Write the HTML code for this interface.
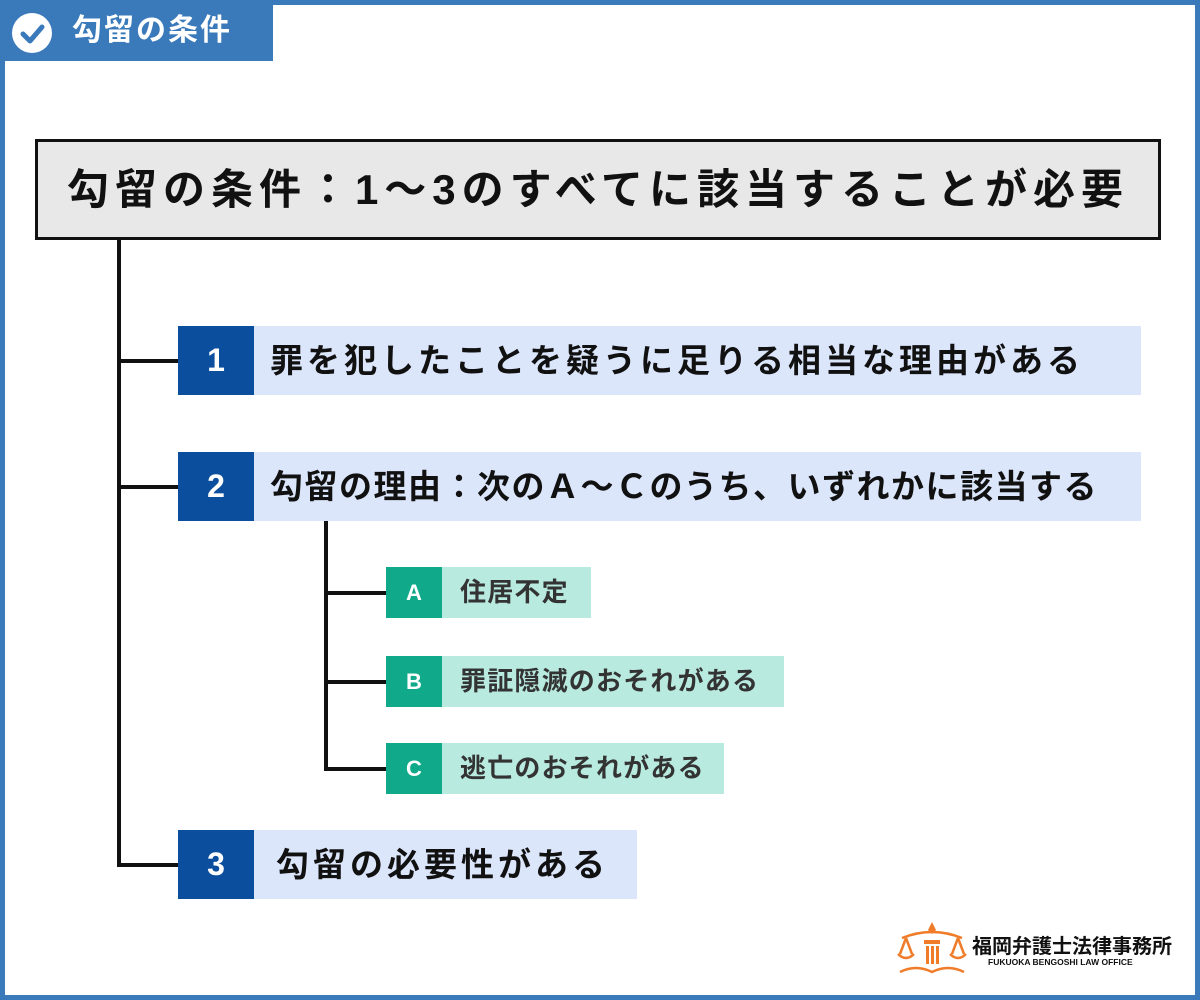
<!DOCTYPE html>
<html><head><meta charset="utf-8"><style>
*{margin:0;padding:0;box-sizing:border-box}
body{width:1200px;height:1000px;position:relative;background:#fff;font-family:"Liberation Sans","Noto Sans CJK JP",sans-serif;overflow:hidden}
.a{position:absolute;white-space:nowrap}
.frame{left:0;top:0;width:1200px;height:1000px;border:5px solid #3a7aba}
.hdr{left:0;top:0;width:273px;height:61px;background:#3a7aba;color:#fff;font-weight:bold;font-size:30px;letter-spacing:2px;line-height:61px;padding-left:72px}
.chk{left:12px;top:13px;width:40px;height:40px;border-radius:50%;background:#fff}
.title{left:35px;top:139px;width:1126px;height:101px;border:3px solid #111;background:#e8e8e8;font-weight:bold;font-size:42px;letter-spacing:6px;line-height:95px;text-align:center;color:#111}
.ln{background:#111}
.num{background:#0b4e9e;color:#fff;font-weight:bold;font-size:32px;text-align:center;width:76px;height:69px;line-height:69px}
.bar{background:#dce6fb;color:#111;font-weight:bold;font-size:33px;letter-spacing:4px;height:69px;line-height:69px;padding-left:16px}
.let{background:#10a98a;color:#fff;font-weight:bold;font-size:22px;text-align:center;width:56px;height:51px;line-height:51px}
.sb{background:#b8eadf;color:#333;font-weight:bold;font-size:26px;letter-spacing:1.2px;height:51px;line-height:51px;padding-left:18px}
</style></head><body>
<div class="a frame"></div>
<div class="a hdr">勾留の条件</div>
<div class="a chk"><svg width="40" height="40"><path d="M11 21 L18 28 L30 14" stroke="#3a7aba" stroke-width="5" fill="none" stroke-linecap="round" stroke-linejoin="round"/></svg></div>
<div class="a title">勾留の条件：1～3のすべてに該当することが必要</div>
<div class="a ln" style="left:117px;top:239px;width:4px;height:628px"></div>
<div class="a ln" style="left:117px;top:359px;width:61px;height:4px"></div>
<div class="a ln" style="left:117px;top:485px;width:61px;height:4px"></div>
<div class="a ln" style="left:117px;top:863px;width:61px;height:4px"></div>
<div class="a num" style="left:178px;top:326px">1</div>
<div class="a bar" style="left:254px;top:326px;width:887px">罪を犯したことを疑うに足りる相当な理由がある</div>
<div class="a num" style="left:178px;top:452px">2</div>
<div class="a bar" style="left:254px;top:452px;width:887px;letter-spacing:1.5px">勾留の理由：次のＡ～Ｃのうち、いずれかに該当する</div>
<div class="a num" style="left:178px;top:830px">3</div>
<div class="a bar" style="left:254px;top:830px;width:383px;padding-left:22px">勾留の必要性がある</div>
<div class="a ln" style="left:324px;top:521px;width:4px;height:250px"></div>
<div class="a ln" style="left:324px;top:591px;width:62px;height:4px"></div>
<div class="a ln" style="left:324px;top:680px;width:62px;height:4px"></div>
<div class="a ln" style="left:324px;top:767px;width:62px;height:4px"></div>
<div class="a let" style="left:386px;top:567px">A</div>
<div class="a sb" style="left:442px;top:567px;width:149px">住居不定</div>
<div class="a let" style="left:386px;top:656px">B</div>
<div class="a sb" style="left:442px;top:656px;width:342px">罪証隠滅のおそれがある</div>
<div class="a let" style="left:386px;top:743px">C</div>
<div class="a sb" style="left:442px;top:743px;width:282px">逃亡のおそれがある</div>
<svg class="a" style="left:896px;top:918px" width="72" height="60"><g stroke="#f07c2a" stroke-width="2.5" fill="none"><path d="M6 20 Q36 8 66 20"/><path d="M10 20 L4 36 M10 20 L16 36 M2 36 Q10 44 18 36"/><path d="M62 20 L56 36 M62 20 L68 36 M54 36 Q62 44 70 36"/><path d="M4 54 Q20 46 36 54 Q52 46 68 54"/></g><g fill="#f07c2a"><path d="M36 4 L40 12 L36 16 L32 12Z"/><rect x="28" y="22" width="16" height="4"/><rect x="30" y="28" width="3" height="18"/><rect x="35" y="28" width="3" height="18"/><rect x="40" y="28" width="3" height="18"/></g></svg>
<div class="a" style="left:972px;top:930px;font-size:20px;font-weight:bold;color:#111">福岡弁護士法律事務所</div>
<div class="a" style="left:988px;top:957px;font-size:8.5px;font-weight:bold;color:#111">FUKUOKA BENGOSHI LAW OFFICE</div>
</body></html>
